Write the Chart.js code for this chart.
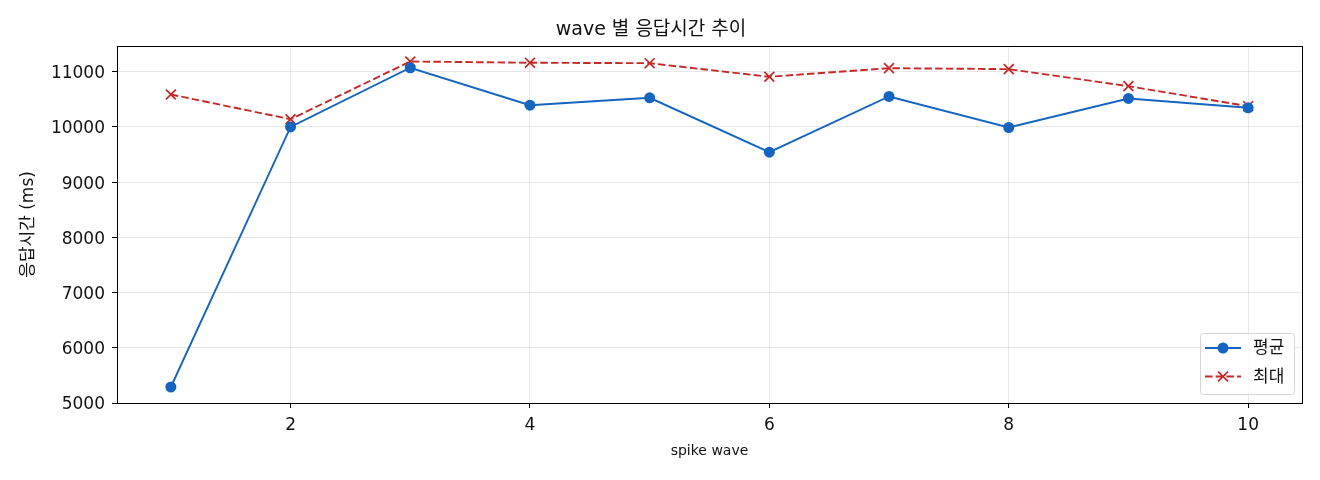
<!DOCTYPE html>
<html>
<head>
<meta charset="utf-8">
<script src="https://cdn.jsdelivr.net/npm/chart.js@4.4.1/dist/chart.umd.min.js"></script>
<style>
html,body{margin:0;padding:0;background:#fff;}
#wrap{width:1320px;height:480px;}
</style>
</head>
<body>
<div id="wrap"><canvas id="c" width="1320" height="480"></canvas></div>
<script>
const waves = [1, 2, 3, 4, 5, 6, 7, 8, 9, 10];
const avgMs = [5290, 10000, 11072, 10394, 10528, 9543, 10552, 9990, 10516, 10347];
const maxMs = [10588, 10140, 11186, 11163, 11155, 10909, 11065, 11047, 10739, 10376];
const xTicks = [2, 4, 6, 8, 10];
const yTicks = [5000, 6000, 7000, 8000, 9000, 10000, 11000];
const seriesNames = ['평균', '최대'];
const titleText = 'wave 별 응답시간 추이';
const xLabel = 'spike wave';
const yLabel = '응답시간 (ms)';

const FONT = "'DejaVu Sans', 'Noto Sans CJK KR', sans-serif";
const BLUE = '#1565C0';
const RED = '#C62828';

const framePlugin = {
  id: 'frame',
  afterDatasetsDraw(chart) {
    const {ctx, chartArea: a} = chart;
    ctx.save();
    ctx.strokeStyle = '#000';
    ctx.lineWidth = 1;
    ctx.strokeRect(Math.round(a.left) + 0.5, Math.round(a.top) + 0.5, Math.round(a.right - a.left), Math.round(a.bottom - a.top));
    ctx.restore();
  }
};

const legendPlugin = {
  id: 'mplLegend',
  afterDraw(chart) {
    const {ctx, chartArea: a} = chart;
    const w = 94, h = 61;
    const x0 = a.right - 102, y0 = a.bottom - 70;
    ctx.save();
    ctx.beginPath();
    if (ctx.roundRect) ctx.roundRect(x0 + 0.5, y0 + 0.5, w, h, 3); else ctx.rect(x0 + 0.5, y0 + 0.5, w, h);
    ctx.fillStyle = 'rgba(255,255,255,0.85)';
    ctx.fill();
    ctx.strokeStyle = '#d6d6d6';
    ctx.lineWidth = 1;
    ctx.stroke();
    chart.data.datasets.forEach((ds, i) => {
      const cy = y0 + 15 + i * 28.5;
      const lx0 = x0 + 5, lx1 = x0 + 41, mx = (lx0 + lx1) / 2;
      ctx.strokeStyle = ds.borderColor;
      ctx.lineWidth = ds.borderWidth;
      ctx.setLineDash(ds.borderDash || []);
      ctx.beginPath();
      ctx.moveTo(lx0, cy);
      ctx.lineTo(lx1, cy);
      ctx.stroke();
      ctx.setLineDash([]);
      if (ds.pointStyle === 'circle') {
        ctx.fillStyle = ds.borderColor;
        ctx.beginPath();
        ctx.arc(mx, cy, ds.pointRadius, 0, Math.PI * 2);
        ctx.fill();
      } else {
        const r = ds.pointRadius * Math.SQRT1_2;
        ctx.lineWidth = ds.pointBorderWidth;
        ctx.beginPath();
        ctx.moveTo(mx - r, cy - r); ctx.lineTo(mx + r, cy + r);
        ctx.moveTo(mx - r, cy + r); ctx.lineTo(mx + r, cy - r);
        ctx.stroke();
      }
      ctx.fillStyle = '#111';
      ctx.font = '17px ' + FONT;
      ctx.textBaseline = 'middle';
      ctx.textAlign = 'left';
      ctx.fillText(ds.label, x0 + 53, cy + 1);
    });
    ctx.restore();
  }
};

new Chart(document.getElementById('c'), {
  type: 'line',
  data: {
    datasets: [
      {
        label: seriesNames[0],
        data: waves.map((w, i) => ({x: w, y: avgMs[i]})),
        borderColor: BLUE,
        backgroundColor: BLUE,
        borderWidth: 1.9,
        pointStyle: 'circle',
        pointRadius: 5.5,
        pointBorderWidth: 0,
        pointBackgroundColor: BLUE,
        tension: 0,
        fill: false
      },
      {
        label: seriesNames[1],
        data: waves.map((w, i) => ({x: w, y: maxMs[i]})),
        borderColor: RED,
        backgroundColor: RED,
        borderWidth: 1.9,
        borderDash: [7.5, 3.2],
        pointStyle: 'crossRot',
        pointRadius: 7,
        pointBorderWidth: 1.7,
        pointBorderColor: RED,
        tension: 0,
        fill: false
      }
    ]
  },
  options: {
    responsive: false,
    animation: false,
    devicePixelRatio: 1,
    layout: {padding: {left: 0, right: 18, top: 0, bottom: 0}},
    plugins: {
      legend: {display: false},
      tooltip: {enabled: false},
      title: {
        display: true,
        text: titleText,
        color: '#111',
        font: {family: FONT, size: 19, weight: 'normal'},
        padding: {top: 19, bottom: 4}
      }
    },
    scales: {
      x: {
        type: 'linear',
        min: 0.55,
        max: 10.45,
        afterFit(s) { s.height = 77; },
        afterBuildTicks(s) { s.ticks = xTicks.map(v => ({value: v})); },
        grid: {color: 'rgba(0,0,0,0.09)', tickColor: '#000', tickLength: 5, drawTicks: true},
        border: {display: false},
        ticks: {color: '#111', font: {family: FONT, size: 17}, padding: 7, maxRotation: 0},
        title: {display: true, text: xLabel, color: '#111', font: {family: FONT, size: 14}, padding: {bottom: 20}}
      },
      y: {
        type: 'linear',
        min: 5000,
        max: 11470,
        afterFit(s) { s.width = 117; },
        afterBuildTicks(s) { s.ticks = yTicks.map(v => ({value: v})); },
        grid: {color: 'rgba(0,0,0,0.09)', tickColor: '#000', tickLength: 5, drawTicks: true},
        border: {display: false},
        ticks: {color: '#111', font: {family: FONT, size: 17}, padding: 7, labelOffset: 2, callback: v => String(v)},
        title: {display: true, text: yLabel, color: '#111', font: {family: FONT, size: 17}, padding: {top: 18}}
      }
    }
  },
  plugins: [framePlugin, legendPlugin]
});
</script>
</body>
</html>
